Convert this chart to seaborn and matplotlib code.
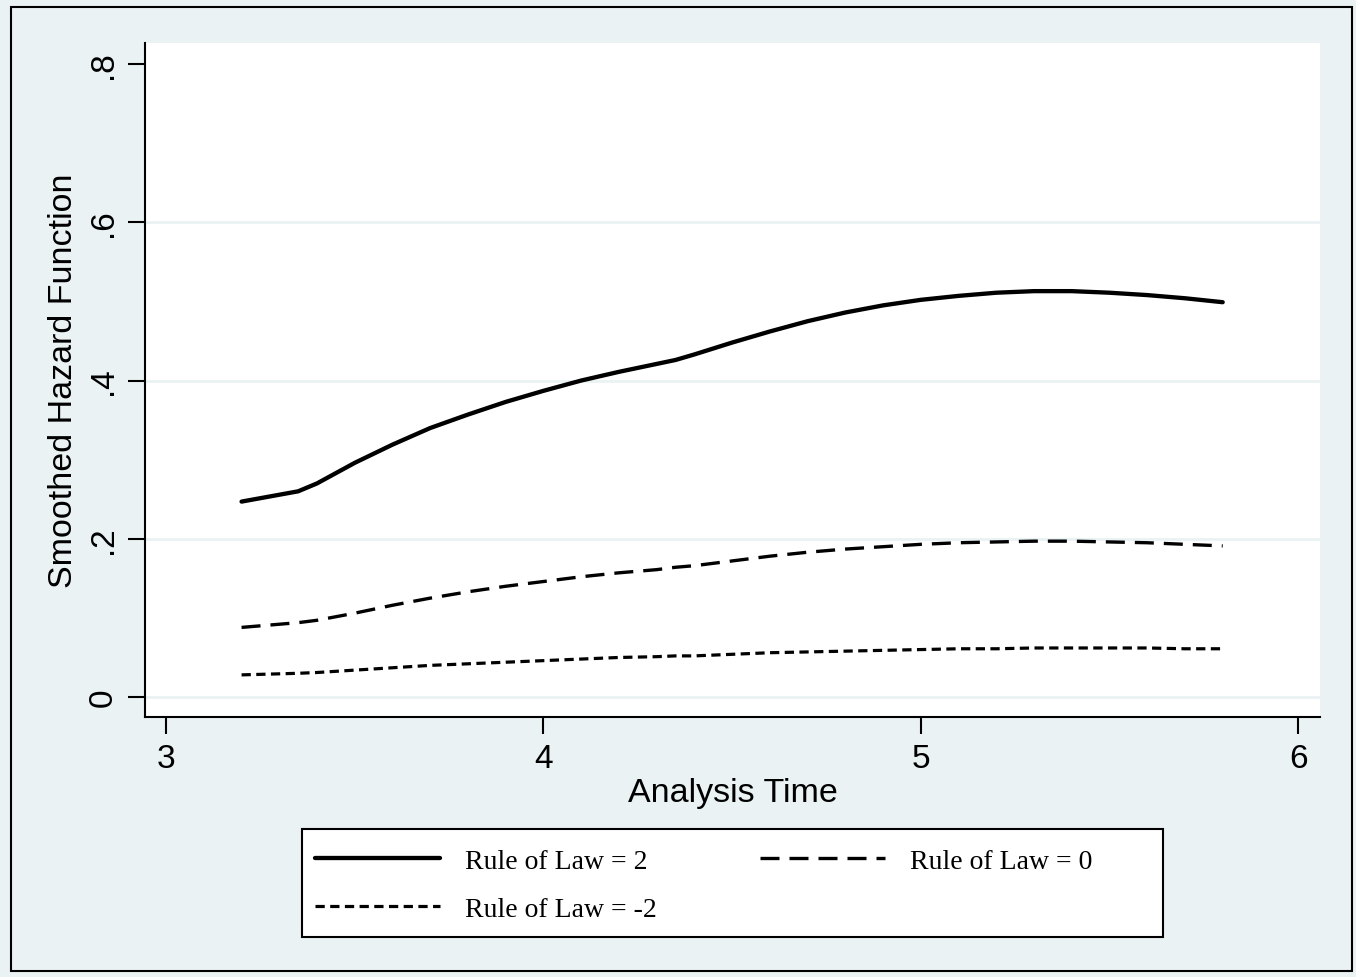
import pandas as pd
import matplotlib.pyplot as plt
import seaborn as sns
from matplotlib.patches import Rectangle

# Smoothed hazard estimates
analysis_time = [3.2, 3.35, 3.4, 3.5, 3.6, 3.7, 3.8, 3.9, 4.0, 4.1, 4.2, 4.3, 4.35,
                 4.4, 4.5, 4.6, 4.7, 4.8, 4.9, 5.0, 5.1, 5.2, 5.3, 5.4, 5.5, 5.6, 5.7, 5.8]
hazard_rol_2 = [0.247, 0.260, 0.270, 0.296, 0.319, 0.340, 0.357, 0.373, 0.387, 0.400,
                0.411, 0.421, 0.426, 0.433, 0.448, 0.462, 0.475, 0.486, 0.495, 0.502,
                0.507, 0.511, 0.513, 0.513, 0.511, 0.508, 0.504, 0.499]
hazard_rol_0 = [0.088, 0.094, 0.097, 0.106, 0.116, 0.125, 0.133, 0.140, 0.146, 0.152,
                0.157, 0.161, 0.164, 0.166, 0.172, 0.178, 0.183, 0.187, 0.190, 0.193,
                0.195, 0.196, 0.197, 0.197, 0.196, 0.195, 0.193, 0.191]
hazard_rol_m2 = [0.028, 0.030, 0.031, 0.034, 0.037, 0.040, 0.042, 0.044, 0.046, 0.048,
                 0.050, 0.051, 0.052, 0.052, 0.054, 0.056, 0.057, 0.058, 0.059, 0.060,
                 0.061, 0.061, 0.062, 0.062, 0.062, 0.062, 0.061, 0.061]
y_ticks = [0, 0.2, 0.4, 0.6, 0.8]
y_tick_labels = ["0", ".2", ".4", ".6", ".8"]
x_ticks = [3, 4, 5, 6]

df = pd.DataFrame({"time": analysis_time, "rol2": hazard_rol_2,
                   "rol0": hazard_rol_0, "rolm2": hazard_rol_m2})

bg = "#EAF2F3"
sns.set_style("ticks")
plt.rcParams["font.family"] = ["Liberation Sans", "DejaVu Sans"]
plt.rcParams["text.color"] = "black"
plt.rcParams["axes.labelcolor"] = "black"
plt.rcParams["xtick.color"] = "black"
plt.rcParams["ytick.color"] = "black"

fig = plt.figure(figsize=(13.56, 9.78), dpi=100, facecolor=bg)
ax = fig.add_axes([0.1069, 0.2658, 0.8666, 0.6892])
ax.set_facecolor("white")

for y in y_ticks[:-1]:
    ax.axhline(y, color=bg, lw=2, zorder=0)

sns.lineplot(data=df, x="time", y="rol2", ax=ax, color="black", lw=3.1)
sns.lineplot(data=df, x="time", y="rol0", ax=ax, color="black", lw=2.4,
             linestyle=(0, (5.7, 3)))
sns.lineplot(data=df, x="time", y="rolm2", ax=ax, color="black", lw=2.3,
             linestyle=(0, (2.9, 1.7)))
lines = ax.get_lines()[-3:]

ax.set_xlim(2.944, 6.058)
ax.set_ylim(-0.0253, 0.8266)
ax.set_xticks(x_ticks)
ax.set_xticklabels([str(t) for t in x_ticks])
ax.set_yticks(y_ticks)
ax.set_yticklabels(y_tick_labels, rotation=90, va="center")
ax.tick_params(axis="both", labelsize=24, length=12, width=1.5, color="black", pad=7)
ax.set_xlabel("Analysis Time", fontsize=24.5, labelpad=2)
ax.set_ylabel("Smoothed Hazard Function", fontsize=24.5, labelpad=6)
for s in ["top", "right"]:
    ax.spines[s].set_visible(False)
for s in ["left", "bottom"]:
    ax.spines[s].set_linewidth(1.5)
    ax.spines[s].set_color("black")

# legend box drawn separately so its size follows the reference
fig.patches.append(Rectangle((302 / 1356, 1 - 938 / 978), 861 / 1356, 108 / 978,
                             transform=fig.transFigure, facecolor="white",
                             edgecolor="black", lw=1.5, zorder=1))

labels = ["Rule of Law = 2", "Rule of Law = -2", "Rule of Law = 0"]
handles = [lines[0], lines[2], lines[1]]
leg = fig.legend(handles, labels, ncol=2, loc="center left",
                 bbox_to_anchor=(309 / 1356, 1 - 886 / 978), frameon=False,
                 borderaxespad=0, borderpad=0.2,
                 handlelength=4.5, handletextpad=0.9, columnspacing=3.75,
                 labelspacing=0.8,
                 prop={"family": "Liberation Serif", "size": 20})
leg.set_zorder(2)

fig.patches.append(Rectangle((11 / 1356, 1 - 972 / 978), 1341 / 1356, 964 / 978,
                             transform=fig.transFigure, fill=False,
                             edgecolor="black", lw=1.5))

fig.savefig("out.png", dpi=100, facecolor=bg)
